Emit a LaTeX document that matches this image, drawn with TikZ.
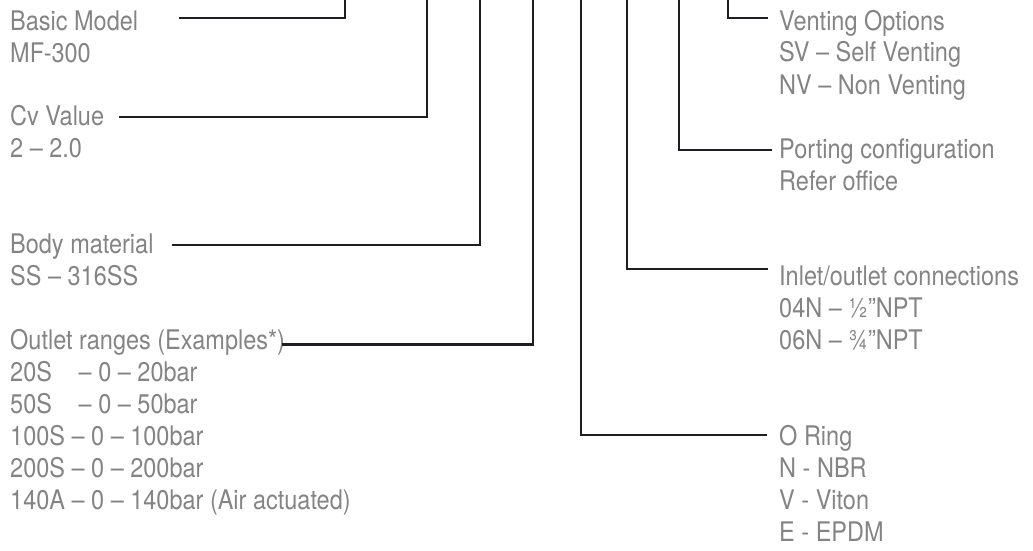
\documentclass[tikz,border=0pt]{standalone}
\usepackage{fontspec}
\setmainfont{TeX Gyre Heros}[FakeStretch=0.87]
\definecolor{txtgray}{RGB}{132,132,132}
\definecolor{linedark}{RGB}{30,30,34}
\begin{document}
\begin{tikzpicture}[x=1pt,y=-1pt,
  lbl/.style={anchor=base west,inner sep=0pt,align=left,text=txtgray,
    font=\fontsize{27}{32}\selectfont},
  conn/.style={draw=linedark,line width=2.2pt}]
\useasboundingbox (0,0) rectangle (1033,551);
% labels left (positioned at the baseline of their last line)
\node[lbl] (bm) at (10,62.5) {Basic Model\\MF-300};
\node[lbl] (cv) at (10,157.5) {Cv Value\\2 -- 2.0};
\node[lbl] (body) at (10,285.7) {Body material\\SS -- 316SS};
\node[lbl] (outlet) at (10,509.5) {Outlet ranges (Examples*)\\
  \makebox[62pt][l]{20S} -- 0 -- 20bar\\
  \makebox[62pt][l]{50S} -- 0 -- 50bar\\
  100S -- 0 -- 100bar\\200S -- 0 -- 200bar\\140A -- 0 -- 140bar (Air actuated)};
% labels right
\node[lbl] (vent) at (779,94) {Venting Options\\SV -- Self Venting\\NV -- Non Venting};
\node[lbl] (port) at (779,190) {Porting configuration\\Refer office};
\node[lbl] (inlet) at (779,349.7) {Inlet/outlet connections\\04N -- ½”NPT\\06N -- ¾”NPT};
\node[lbl] (oring) at (779,541.5) {O Ring\\N - NBR\\V - Viton\\E - EPDM};
% connector coordinates
\coordinate (bmL) at (179,18.3);  \coordinate (bmT) at (345,0);
\coordinate (cvL) at (119,116.7); \coordinate (cvT) at (427,0);
\coordinate (bodyL) at (172,245); \coordinate (bodyT) at (480,0);
\coordinate (outL) at (282,344.5);  \coordinate (outT) at (533,0);
\coordinate (ventR) at (768,18.3); \coordinate (ventT) at (728,0);
\coordinate (portR) at (772,150);  \coordinate (portT) at (679,0);
\coordinate (inR) at (768,269);    \coordinate (inT) at (627,0);
\coordinate (orR) at (767,435);    \coordinate (orT) at (581,0);
\draw[conn] (bmL) -| (bmT);
\draw[conn] (cvL) -| (cvT);
\draw[conn] (bodyL) -| (bodyT);
\draw[conn] (outL) -| (outT);
\draw[conn] (ventR) -| (ventT);
\draw[conn] (portR) -| (portT);
\draw[conn] (inR) -| (inT);
\draw[conn] (orR) -| (orT);
\end{tikzpicture}
\end{document}
